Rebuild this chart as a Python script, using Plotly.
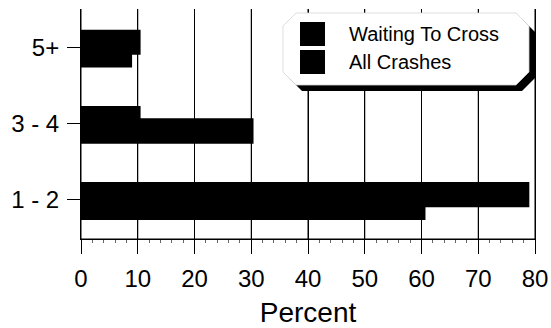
import plotly.graph_objects as go

# Data: share of crashes by number of lanes crossed
categories = ["1 - 2", "3 - 4", "5+"]
waiting_to_cross = [79.0, 10.5, 10.5]
all_crashes = [60.7, 30.4, 9.0]
x_ticks = [0, 10, 20, 30, 40, 50, 60, 70, 80]
x_range = [0, 80]

W, H = 551, 328
L, R, T, B = 81, 535, 9, 239


def px(x):
    return (x - L) / (R - L)


def py(y):
    return (B - y) / (B - T)


def frac(v):
    return (v - x_range[0]) / (x_range[1] - x_range[0])


def octagon(x0, y0, x1, y1, c):
    pts = [(x0 + c, y0), (x1 - c, y0), (x1, y0 + c), (x1, y1 - c),
           (x1 - c, y1), (x0 + c, y1), (x0, y1 - c), (x0, y0 + c)]
    return "M " + " L ".join(f"{px(a):.5f},{py(b):.5f}" for a, b in pts) + " Z"


FONT = "Liberation Sans, Arial, Helvetica, sans-serif"

fig = go.Figure()
fig.add_trace(go.Bar(
    name="All Crashes", orientation="h", y=categories, x=all_crashes,
    offset=-0.262, width=0.335, marker=dict(color="black", line=dict(width=0)),
    showlegend=False,
))
fig.add_trace(go.Bar(
    name="Waiting To Cross", orientation="h", y=categories, x=waiting_to_cross,
    offset=-0.095, width=0.33, marker=dict(color="black", line=dict(width=0)),
    showlegend=False,
))

shapes = []
# vertical rules at every major tick, and the baseline
for v in x_ticks:
    shapes.append(dict(type="line", xref="paper", yref="paper", layer="above",
                       x0=frac(v), x1=frac(v), y0=0, y1=1,
                       line=dict(color="black", width=1)))
shapes.append(dict(type="line", xref="paper", yref="paper", layer="above",
                   x0=0, x1=1, y0=0, y1=0, line=dict(color="black", width=1)))
# legend frame: drop shadow then white chamfered box
shapes.append(dict(type="path", xref="paper", yref="paper", layer="above",
                   path=octagon(289, 19, 535, 91, 13),
                   fillcolor="black", line=dict(width=0)))
shapes.append(dict(type="path", xref="paper", yref="paper", layer="above",
                   path=octagon(283, 13, 529, 85, 13),
                   fillcolor="white", line=dict(color="#d6d6d6", width=0.8)))
# legend swatches
for y0, y1 in [(22, 46), (50, 74)]:
    shapes.append(dict(type="rect", xref="paper", yref="paper", layer="above",
                       x0=px(300), x1=px(325), y0=py(y1), y1=py(y0),
                       fillcolor="black", line=dict(width=0)))

annotations = []
for label, yc in [("Waiting To Cross", 34), ("All Crashes", 62)]:
    annotations.append(dict(text=label, xref="paper", yref="paper",
                            x=px(347), y=py(yc), xanchor="left", yanchor="middle",
                            showarrow=False, font=dict(size=20, color="black", family=FONT)))

fig.update_layout(
    width=W, height=H,
    margin=dict(l=L, r=W - R, t=T, b=H - B),
    paper_bgcolor="white", plot_bgcolor="white",
    barmode="overlay",
    font=dict(family=FONT, color="black"),
    shapes=shapes, annotations=annotations,
    showlegend=False,
)
fig.update_xaxes(
    range=x_range, tickvals=x_ticks, ticktext=[str(v) for v in x_ticks],
    showgrid=True, gridcolor="black", gridwidth=1,
    showline=True, linecolor="black", linewidth=1,
    ticks="outside", ticklen=14, tickcolor="black", tickwidth=1,
    tickfont=dict(size=24, color="black"), ticklabelstandoff=4,
    minor=dict(dtick=2, ticks="outside", ticklen=3, tickcolor="#666", showgrid=False),
    title=dict(text="Percent", font=dict(size=28, color="black"), standoff=12),
    zeroline=False, automargin=False,
)
fig.update_yaxes(
    type="category", categoryorder="array", categoryarray=categories,
    range=[-0.512, 2.507], showgrid=False,
    showline=True, linecolor="black", linewidth=1, mirror=True,
    ticks="outside", ticklen=13, tickcolor="black", tickwidth=1,
    tickfont=dict(size=24, color="black"), ticklabelstandoff=3,
    automargin=False,
)

fig.write_html("out.html")
